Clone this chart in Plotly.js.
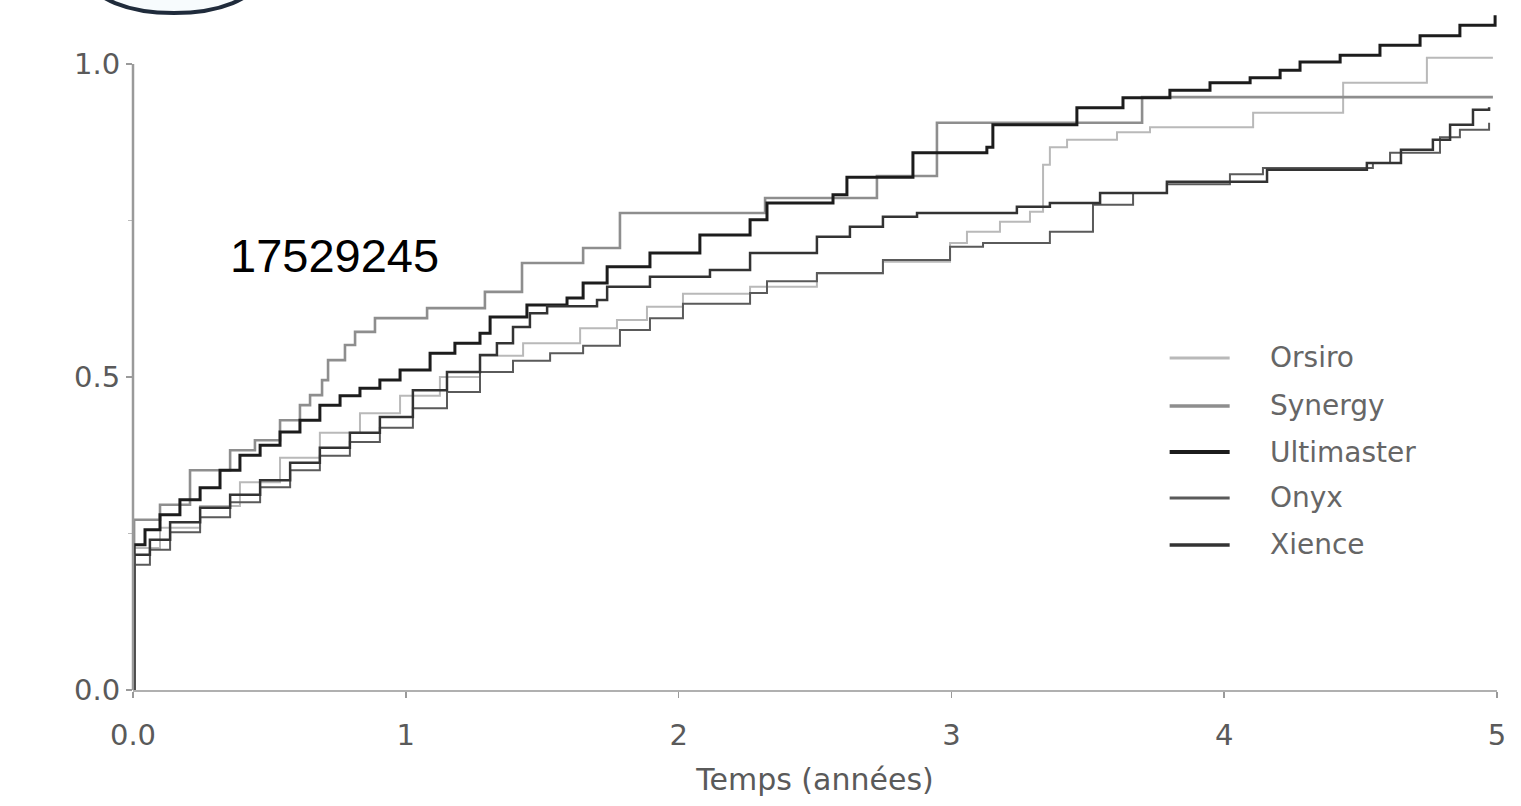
<!DOCTYPE html>
<html>
<head>
<meta charset="utf-8">
<script src="https://cdn.plot.ly/plotly-3.0.1.min.js"></script>
<style>html,body{margin:0;padding:0;background:#fff;}#chart{width:1521px;height:806px;}</style>
</head>
<body>
<div id="chart"></div>
<script>
// Series names and styling
const seriesNames = ["Orsiro", "Synergy", "Ultimaster", "Onyx", "Xience"];
const seriesColors = ["#b9b9b9", "#8e8e8e", "#1c1c1c", "#5a5a5a", "#333333"];
const seriesWidths = [2, 2.6, 3, 2, 2.5];

// Time (years) and cumulative values (step functions)
const orsiroT = [0, 0.004, 0.099, 0.246, 0.392, 0.539, 0.685, 0.832, 0.979, 1.125, 1.272, 1.430, 1.639, 1.774, 1.884, 2.016, 2.262, 2.507, 2.749, 2.995, 3.057, 3.178, 3.288, 3.336, 3.361, 3.424, 3.607, 3.728, 4.106, 4.436, 4.743, 4.985];
const orsiroY = [0, 0.227, 0.259, 0.294, 0.332, 0.371, 0.411, 0.442, 0.470, 0.500, 0.534, 0.554, 0.578, 0.591, 0.612, 0.633, 0.644, 0.665, 0.684, 0.714, 0.732, 0.748, 0.764, 0.839, 0.867, 0.879, 0.891, 0.899, 0.922, 0.970, 1.010, 1.010];

const synergyT = [0, 0.004, 0.099, 0.209, 0.356, 0.447, 0.539, 0.612, 0.649, 0.693, 0.715, 0.777, 0.814, 0.887, 1.078, 1.290, 1.426, 1.650, 1.785, 2.317, 2.727, 2.947, 3.699, 4.985];
const synergyY = [0, 0.272, 0.296, 0.351, 0.383, 0.399, 0.431, 0.455, 0.471, 0.495, 0.527, 0.551, 0.572, 0.594, 0.610, 0.636, 0.682, 0.706, 0.762, 0.786, 0.821, 0.906, 0.947, 0.947];

const ultimasterT = [0, 0.004, 0.044, 0.099, 0.172, 0.246, 0.319, 0.392, 0.466, 0.539, 0.612, 0.685, 0.759, 0.832, 0.905, 0.979, 1.089, 1.180, 1.272, 1.309, 1.444, 1.591, 1.650, 1.738, 1.895, 2.078, 2.262, 2.324, 2.566, 2.617, 2.859, 3.130, 3.152, 3.460, 3.629, 3.801, 3.948, 4.095, 4.205, 4.278, 4.425, 4.571, 4.718, 4.864, 4.993];
const ultimasterY = [0, 0.232, 0.256, 0.280, 0.304, 0.323, 0.351, 0.375, 0.391, 0.412, 0.431, 0.455, 0.470, 0.482, 0.495, 0.511, 0.538, 0.554, 0.570, 0.596, 0.615, 0.626, 0.650, 0.676, 0.698, 0.727, 0.751, 0.778, 0.791, 0.819, 0.858, 0.867, 0.903, 0.930, 0.946, 0.958, 0.970, 0.978, 0.990, 1.003, 1.014, 1.030, 1.045, 1.062, 1.078];

const onyxT = [0, 0.004, 0.062, 0.136, 0.246, 0.356, 0.466, 0.576, 0.685, 0.795, 0.905, 1.026, 1.151, 1.272, 1.393, 1.529, 1.650, 1.785, 1.895, 2.016, 2.262, 2.324, 2.507, 2.749, 2.995, 3.116, 3.361, 3.519, 3.666, 3.790, 4.021, 4.142, 4.545, 4.608, 4.791, 4.864, 4.971];
const onyxY = [0, 0.200, 0.224, 0.252, 0.276, 0.300, 0.324, 0.351, 0.374, 0.396, 0.419, 0.450, 0.476, 0.508, 0.526, 0.538, 0.550, 0.575, 0.594, 0.617, 0.634, 0.653, 0.666, 0.687, 0.708, 0.714, 0.732, 0.775, 0.794, 0.808, 0.824, 0.834, 0.842, 0.858, 0.883, 0.895, 0.906];

const xienceT = [0, 0.004, 0.062, 0.136, 0.246, 0.356, 0.466, 0.576, 0.685, 0.795, 0.905, 1.026, 1.151, 1.272, 1.334, 1.393, 1.455, 1.518, 1.701, 1.738, 1.895, 2.115, 2.262, 2.507, 2.628, 2.749, 2.874, 3.240, 3.361, 3.545, 3.790, 4.157, 4.523, 4.648, 4.765, 4.828, 4.912, 4.971];
const xienceY = [0, 0.216, 0.240, 0.268, 0.291, 0.312, 0.335, 0.363, 0.387, 0.411, 0.436, 0.479, 0.508, 0.535, 0.554, 0.580, 0.602, 0.613, 0.623, 0.644, 0.660, 0.671, 0.698, 0.724, 0.740, 0.756, 0.762, 0.772, 0.778, 0.794, 0.812, 0.831, 0.842, 0.863, 0.879, 0.903, 0.927, 0.931];

// Axis ticks
const xTickVals = [0, 1, 2, 3, 4, 5];
const xTickText = ["0.0", "1", "2", "3", "4", "5"];
const yTickVals = [0, 0.5, 1];
const yTickText = ["0.0", "0.5", "1.0"];
const yMinorVals = [0.25, 0.75];
const xTitle = "Temps (années)";
const overlayText = "17529245";

const seriesT = [orsiroT, synergyT, ultimasterT, onyxT, xienceT];
const seriesY = [orsiroY, synergyY, ultimasterY, onyxY, xienceY];

const traces = seriesNames.map((n, i) => ({
  type: "scatter", mode: "lines", name: n,
  x: seriesT[i], y: seriesY[i],
  line: {shape: "hv", color: seriesColors[i], width: seriesWidths[i]},
  showlegend: false, hoverinfo: "skip"
}));

const tickFont = {family: "DejaVu Sans, Verdana, sans-serif", size: 29, color: "#5a5a5a"};

// Legend drawn as shapes + annotations (paper coordinates)
const legendY = [0.4826, 0.4128, 0.3459, 0.2791, 0.2108];
const shapes = [
  // y axis line from 0 to 1 only
  {type: "line", xref: "paper", yref: "y", x0: 0, x1: 0, y0: 0, y1: 1.0, line: {color: "#9a9a9a", width: 2.5}},
  // partial circle logo at top-left
  {type: "circle", xref: "paper", yref: "paper", x0: -0.031, x1: 0.091, y0: 0.984, y1: 1.083, line: {color: "#1f2b3b", width: 4}, fillcolor: "#f7fbfd", layer: "above"}
];
const annotations = [
  {xref: "paper", yref: "paper", x: 0.0696, y: 0.632, xanchor: "left", yanchor: "middle", showarrow: false, text: overlayText,
   font: {family: "Liberation Sans, Arial, sans-serif", size: 47, color: "#000"}}
];
seriesNames.forEach((n, i) => {
  shapes.push({type: "line", xref: "paper", yref: "paper", x0: 0.760, x1: 0.804, y0: legendY[i], y1: legendY[i],
    line: {color: seriesColors[i], width: seriesWidths[i] + 1}});
  annotations.push({xref: "paper", yref: "paper", x: 0.832, y: legendY[i], xanchor: "left", yanchor: "middle", showarrow: false,
    text: n, font: {family: "DejaVu Sans, Verdana, sans-serif", size: 28, color: "#666"}});
});

const layout = {
  width: 1521, height: 806,
  margin: {l: 133, r: 24, t: 2, b: 116},
  paper_bgcolor: "#fff", plot_bgcolor: "#fff",
  showlegend: false,
  xaxis: {
    range: [0, 5], showgrid: false, zeroline: false,
    showline: true, linecolor: "#b0b0b0", linewidth: 2,
    ticks: "outside", ticklen: 6, tickcolor: "#9a9a9a", tickwidth: 1.5,
    tickmode: "array", tickvals: xTickVals, ticktext: xTickText,
    tickfont: tickFont, ticklabelstandoff: 12,
    title: {text: xTitle, font: {family: "DejaVu Sans, Verdana, sans-serif", size: 30, color: "#5a5a5a"}, standoff: 18}
  },
  yaxis: {
    range: [0, 1.099], showgrid: false, zeroline: false, showline: false,
    ticks: "outside", ticklen: 6, tickcolor: "#9a9a9a", tickwidth: 1.5,
    tickmode: "array", tickvals: yTickVals, ticktext: yTickText,
    tickfont: tickFont,
    minor: {tickmode: "array", tickvals: yMinorVals, ticks: "outside", ticklen: 4, tickcolor: "#bbbbbb"}
  },
  shapes: shapes,
  annotations: annotations
};

Plotly.newPlot("chart", traces, layout, {displayModeBar: false, staticPlot: true});
</script>
</body>
</html>
